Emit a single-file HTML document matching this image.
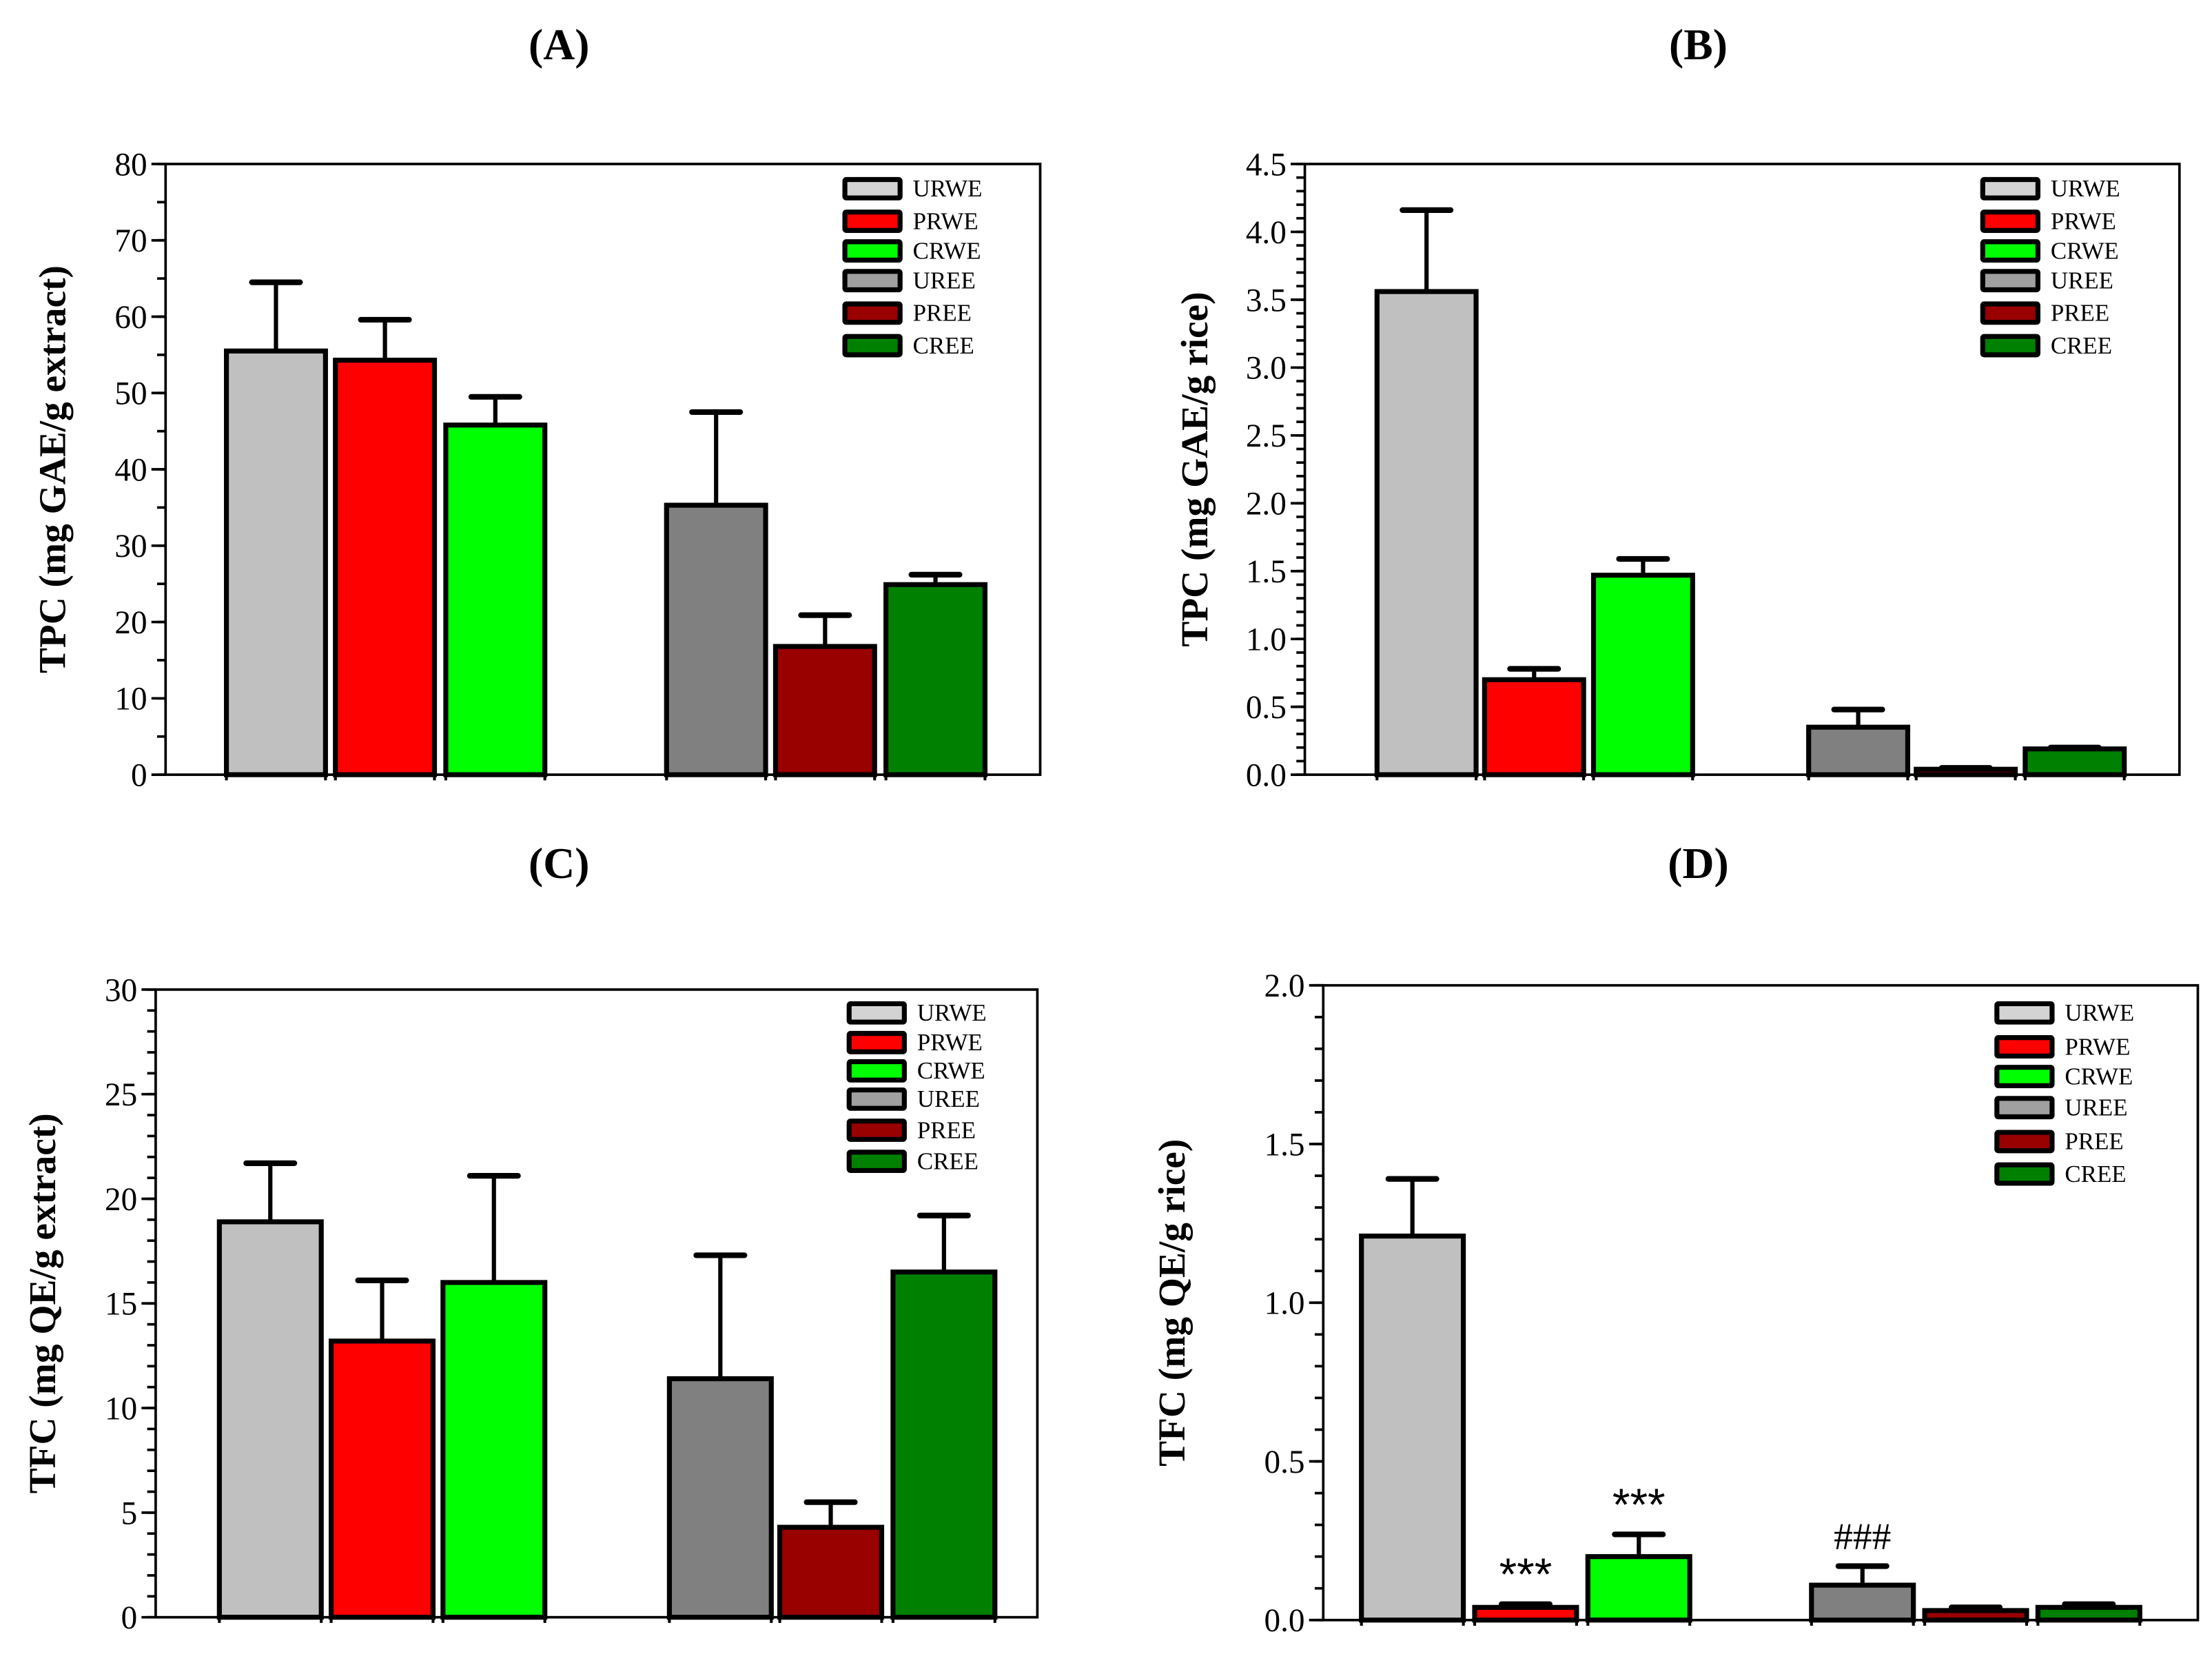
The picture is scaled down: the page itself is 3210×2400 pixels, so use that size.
<!DOCTYPE html>
<html><head><meta charset="utf-8"><style>html,body{margin:0;padding:0;background:#fff}svg{display:block}</style></head>
<body>
<svg id="fig" width="3210" height="2400" viewBox="0 0 1563 1170" preserveAspectRatio="none" xmlns="http://www.w3.org/2000/svg" font-family="'Liberation Serif', serif"></svg>
<script>
const seriesNames = ["URWE","PRWE","CRWE","UREE","PREE","CREE"];
const seriesColors = ["#c0c0c0","#ff0000","#00ff00","#808080","#990000","#008000"];
const legendColors = ["#d3d3d3","#ff0000","#00ff00","#a0a0a0","#990000","#008000"];
const valuesA = [55.5, 54.3, 45.8, 35.3, 16.8, 24.9];
const errorsA = [9.0, 5.3, 3.7, 12.2, 4.1, 1.3];
const ticksA = [0,10,20,30,40,50,60,70,80];
const valuesB = [3.56, 0.70, 1.47, 0.35, 0.04, 0.19];
const errorsB = [0.60, 0.08, 0.12, 0.13, 0.01, 0.01];
const ticksB = ["0.0","0.5","1.0","1.5","2.0","2.5","3.0","3.5","4.0","4.5"];
const valuesC = [18.9, 13.2, 16.0, 11.4, 4.3, 16.5];
const errorsC = [2.8, 2.9, 5.1, 5.9, 1.2, 2.7];
const ticksC = [0,5,10,15,20,25,30];
const valuesD = [1.21, 0.04, 0.20, 0.11, 0.03, 0.04];
const errorsD = [0.18, 0.01, 0.07, 0.06, 0.01, 0.01];
const ticksD = ["0.0","0.5","1.0","1.5","2.0"];
const annotationsD = ["","***","***","###","",""];

const NS="http://www.w3.org/2000/svg";
const svg=document.getElementById('fig');
function mk(tag,attrs,parent){const e=document.createElementNS(NS,tag);for(const k in attrs)e.setAttribute(k,attrs[k]);(parent||svg).appendChild(e);return e;}

function panel(cfg){
  const g=mk('g',{});
  
  
  const {L,R,T,B,max,minor}=cfg;
  const y=v=>B-(v/max)*(B-T);
  const t=mk('text',{x:cfg.titleX,y:cfg.titleY,'font-size':31,'font-weight':'bold','text-anchor':'middle'},g);
  t.textContent=cfg.title;
  
  
  const fr=mk('rect',{x:L,y:T,width:R-L,height:B-T,fill:'none',stroke:'#000','stroke-width':1.8},g);
  
  
  for(let v=0;v<=max+1e-9;v+=minor){mk('line',{x1:L-6,x2:L,y1:y(v),y2:y(v),stroke:'#000','stroke-width':1.8},g);}
  cfg.ticks.forEach(tk=>{const v=parseFloat(tk);
    mk('line',{x1:L-10,x2:L,y1:y(v),y2:y(v),stroke:'#000','stroke-width':1.8},g);
    const tl=mk('text',{x:L-13,y:y(v)+8,'font-size':23,'text-anchor':'end'},g);
    tl.textContent=tk;
    
    
  });
  const cy=(T+B)/2;
  const yt=mk('text',{x:0,y:0,'font-size':27,'font-weight':'bold','text-anchor':'middle',transform:`translate(${cfg.ylabX},${cy}) rotate(-90)`},g);
  yt.textContent=cfg.ylabel;
  
  
  cfg.values.forEach((v,i)=>{
    const x=cfg.barX[i], w=cfg.barW;
    const top=y(v+cfg.errors[i]);
    const cx=x+w/2;
    mk('line',{x1:cx,x2:cx,y1:y(v),y2:top,stroke:'#000','stroke-width':3},g);
    mk('line',{x1:cx-17,x2:cx+17,y1:top,y2:top,stroke:'#000','stroke-width':4,'stroke-linecap':'round'},g);
    const r=mk('rect',{x:x,y:y(v),width:w,height:B-y(v),fill:seriesColors[i],stroke:'#000','stroke-width':3.5},g);
    
    
    mk('line',{x1:x,x2:x,y1:B,y2:B+4,stroke:'#000','stroke-width':2},g);
    mk('line',{x1:x+w,x2:x+w,y1:B,y2:B+4,stroke:'#000','stroke-width':2},g);
    if(cfg.annot && cfg.annot[i]){
      const star=cfg.annot[i]==='***';
      const a=mk('text',{x:cx,y:top-(star?10:12),'font-size':star?32:27,'text-anchor':'middle','font-family':star?"'Liberation Sans', sans-serif":"'Liberation Serif', serif"},g);
      a.textContent=cfg.annot[i];
      
      
    }
  });
  seriesNames.forEach((n,i)=>{
    const ly=cfg.legY[i];
    const lr=mk('rect',{x:cfg.legX,y:ly-6,width:39,height:13,fill:legendColors[i],stroke:'#000','stroke-width':3.5,rx:1},g);
    
    
    const lt=mk('text',{x:cfg.legX+48,y:ly+6,'font-size':17},g);
    lt.textContent=n;
    
    
  });
}
panel({id:'panel-a',title:'(A)',titleX:395,titleY:42,L:117,R:735,T:116,B:548,max:80,minor:5,ticks:ticksA.map(String),values:valuesA,errors:errorsA,
  barX:[160,237,315,471,548,626],barW:70,ylabel:'TPC (mg GAE/g extract)',ylabX:46,legX:597,legY:[133,156,177,198,221,244]});
panel({id:'panel-b',title:'(B)',titleX:1200,titleY:42,L:922,R:1540,T:116,B:548,max:4.5,minor:0.1,ticks:ticksB,values:valuesB,errors:errorsB,
  barX:[973,1049,1126,1278,1354,1431],barW:70,ylabel:'TPC (mg GAE/g rice)',ylabX:853,legX:1401,legY:[133,156,177,198,221,244]});
panel({id:'panel-c',title:'(C)',titleX:395,titleY:621,L:110,R:733,T:700,B:1144,max:30,minor:1,ticks:ticksC.map(String),values:valuesC,errors:errorsC,
  barX:[155,234,313,473,551,631],barW:72,ylabel:'TFC (mg QE/g extract)',ylabX:39,legX:600,legY:[716,737,757,777,799,821]});
panel({id:'panel-d',title:'(D)',titleX:1200,titleY:621,L:935,R:1553,T:697,B:1146,max:2.0,minor:0.1,ticks:ticksD,values:valuesD,errors:errorsD,annot:annotationsD,
  barX:[962,1042,1122,1280,1360,1440],barW:72,ylabel:'TFC (mg QE/g rice)',ylabX:837,legX:1411,legY:[716,740,761,783,807,830]});
</script>
</body></html>
